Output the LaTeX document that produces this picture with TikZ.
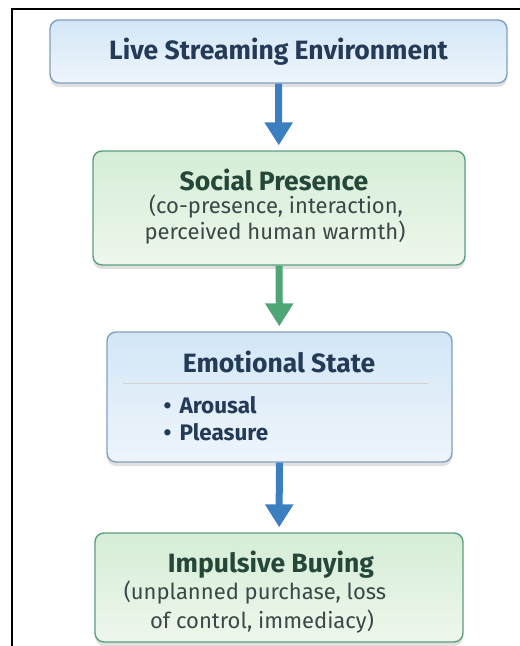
\documentclass[tikz,border=0pt]{standalone}
\usepackage{fontspec}
\setmainfont{Fira Sans}
\usepackage{xcolor}
\usetikzlibrary{arrows.meta,shadows}
\definecolor{BlueLine}{HTML}{7F9FC4}
\definecolor{BlueTop}{HTML}{D3E6F6}
\definecolor{BlueBot}{HTML}{EEF5FB}
\definecolor{GreenLine}{HTML}{5A9F80}
\definecolor{GreenTop}{HTML}{D5EDD6}
\definecolor{GreenBot}{HTML}{EEF7EC}
\definecolor{MyBlue}{HTML}{3B7FC0}
\definecolor{MyGreen}{HTML}{4EA676}
\definecolor{NavyText}{HTML}{243B58}
\definecolor{PineText}{HTML}{24473A}
\definecolor{GreyText}{HTML}{3A4848}

\begin{document}
\begin{tikzpicture}[x=1pt,y=-1pt,
    stagebox/.style={line width=1.4pt, rounded corners=9pt, inner sep=0pt,
        drop shadow={shadow xshift=0pt, shadow yshift=-4pt, opacity=0.12, fill=black}},
    bluebox/.style={stagebox, draw=BlueLine, top color=BlueTop, bottom color=BlueBot},
    greenbox/.style={stagebox, draw=GreenLine, top color=GreenTop, bottom color=GreenBot},
    flowarrow/.style={line width=7pt, -{Triangle[width=27pt,length=23pt]}, shorten >=5pt},
    headtext/.style={font=\fontsize{26.5}{30}\selectfont\bfseries},
    subtext/.style={font=\fontsize{22}{26}\selectfont, text=GreyText},
    itemtext/.style={font=\fontsize{22.5}{26}\selectfont\bfseries, text=NavyText, anchor=west}]
    \useasboundingbox (0,0) rectangle (520,646);
    \begin{scope}
        \clip (0,0) rectangle (520,646);
        \draw[line width=1.5pt] (12,660) -- (12,9) -- (530,9);
    \end{scope}

    % boxes
    \node[bluebox, minimum width=457pt, minimum height=63pt, headtext, text=NavyText] (live) at (278.5,51.5) {Live Streaming Environment};
    \node[greenbox, minimum width=372pt, minimum height=114pt] (social) at (279,208) {};
    \node[bluebox, minimum width=345pt, minimum height=130pt] (emotion) at (279.5,397) {};
    \node[greenbox, minimum width=368pt, minimum height=109pt] (impulse) at (279,587.5) {};

    % arrows
    \draw[flowarrow, MyBlue] (live) -- (social);
    \draw[flowarrow, MyGreen] (social) -- (emotion);
    \draw[flowarrow, MyBlue] (emotion) -- (impulse);

    % texts
    \node[headtext, text=PineText] (social-head) at (274,180) {Social Presence};
    \node[subtext] (social-l1) at (276,207) {(co-presence, interaction,};
    \node[subtext] (social-l2) at (275,233) {perceived human warmth)};

    \node[headtext, text=NavyText] (emotion-head) at (279,362) {Emotional State};
    \draw[gray!35, line width=0.8pt] (123,383) -- (428,383);
    \foreach[count=\i] \w/\y in {Arousal/405, Pleasure/432} {
        \node[itemtext] (item-\i) at (176,\y) {\llap{\textbullet\hspace{8pt}}\w};
    }

    \node[headtext, text=PineText] (impulse-head) at (271,565) {Impulsive Buying};
    \node[subtext] (impulse-l1) at (255,593) {(unplanned purchase, loss};
    \node[subtext] (impulse-l2) at (262,622) {of control, immediacy)};
\end{tikzpicture}
\end{document}
